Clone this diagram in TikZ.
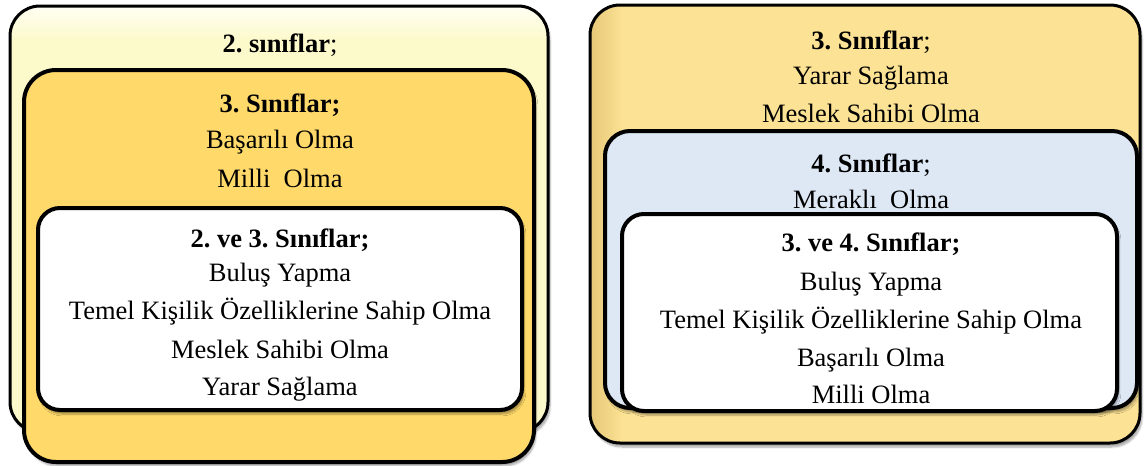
\documentclass[tikz,border=0pt]{standalone}
\usepackage{fontspec}
\setmainfont{Liberation Serif}
\usetikzlibrary{shadows.blur}
\definecolor{paleyel}{HTML}{FCFACB}
\definecolor{paletop}{HTML}{FFFFF4}
\definecolor{midyel}{HTML}{FFD96A}
\definecolor{goldyel}{HTML}{FCE294}
\definecolor{goldleft}{HTML}{E6C777}
\definecolor{paleblue}{HTML}{DEE8F5}
\pgfdeclareverticalshading{paleshade}{100bp}{color(0bp)=(paleyel); color(71bp)=(paleyel); color(75bp)=(paletop); color(100bp)=(paletop)}
\pgfdeclarehorizontalshading{goldshade}{100bp}{color(0bp)=(goldleft); color(25bp)=(goldleft); color(28bp)=(goldyel); color(100bp)=(goldyel)}
\tikzset{
  box/.style={rectangle, draw=black, inner sep=0pt, outer sep=0pt},
  shad/.style={blur shadow={shadow xshift=2pt, shadow yshift=-4pt, shadow blur steps=6, shadow opacity=35}},
  txt/.style={anchor=base, inner sep=0pt, font=\fontsize{26.5}{30}\selectfont},
}
\begin{document}
\frenchspacing
\begin{tikzpicture}[x=1pt,y=-1pt]
\useasboundingbox (0,0) rectangle (1144,466);
% left diagram
\node[box, shad, line width=3pt, rounded corners=30pt, shading=paleshade,
      minimum width=538pt, minimum height=426pt] (A) at (279,219) {};
\node[box, shad, line width=4pt, rounded corners=32pt, fill=midyel,
      minimum width=510pt, minimum height=392pt] (B) at (279,266) {};
\node[box, shad, line width=4pt, rounded corners=22pt, fill=white,
      minimum width=484pt, minimum height=202pt] (C) at (280,309) {};
\node[txt] (a1) at (280,52) {\textbf{2. sınıflar};};
\node[txt] (b1) at (280,112) {\textbf{3. Sınıflar;}};
\node[txt] (b2) at (280,148) {Başarılı Olma};
\node[txt] (b3) at (280,187) {Milli\ \ Olma};
\node[txt] (c1) at (280,247) {\textbf{2. ve 3. Sınıflar;}};
\node[txt] (c2) at (280,281) {Buluş Yapma};
\node[txt] (c3) at (280,319) {Temel Kişilik Özelliklerine Sahip Olma};
\node[txt] (c4) at (280,358) {Meslek Sahibi Olma};
\node[txt] (c5) at (280,395) {Yarar Sağlama};
% right diagram
\node[box, shad, line width=3pt, rounded corners=30pt, shading=goldshade,
      minimum width=550pt, minimum height=438pt] (D) at (865,224) {};
\node[box, shad, line width=4pt, rounded corners=25pt, fill=paleblue,
      minimum width=532pt, minimum height=277pt] (E) at (871,269.5) {};
\node[box, shad, line width=4pt, rounded corners=22pt, fill=white,
      minimum width=495pt, minimum height=197pt] (F) at (869.5,312.5) {};
\node[txt] (d1) at (871,49) {\textbf{3. Sınıflar};};
\node[txt] (d2) at (871,84) {Yarar Sağlama};
\node[txt] (d3) at (871,122) {Meslek Sahibi Olma};
\node[txt] (e1) at (871,172) {\textbf{4. Sınıflar};};
\node[txt] (e2) at (871,208) {Meraklı\ \ Olma};
\node[txt] (f1) at (871,251) {\textbf{3. ve 4. Sınıflar;}};
\node[txt] (f2) at (871,290) {Buluş Yapma};
\node[txt] (f3) at (871,328) {Temel Kişilik Özelliklerine Sahip Olma};
\node[txt] (f4) at (871,366) {Başarılı Olma};
\node[txt] (f5) at (871,403) {Milli Olma};
\end{tikzpicture}
\end{document}
